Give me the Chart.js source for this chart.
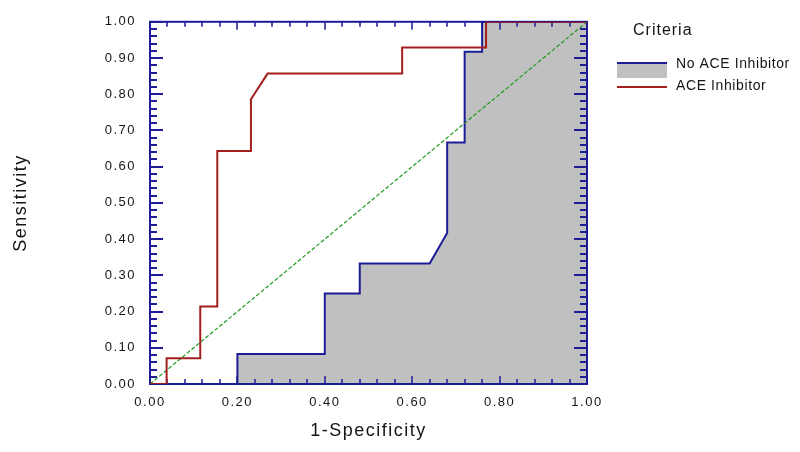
<!DOCTYPE html>
<html>
<head>
<meta charset="utf-8">
<script src="https://cdn.jsdelivr.net/npm/chart.js@4"></script>
<style>
  body { margin: 0; background: #fff; }
  #wrap { width: 800px; height: 452px; }
</style>
</head>
<body>
<div id="wrap"><canvas id="rocChart"></canvas></div>
<script>
"use strict";

// ROC curve points (1-specificity, sensitivity)
const noAceX = [0, 0.20, 0.20, 0.40, 0.40, 0.48, 0.48, 0.64, 0.68, 0.68, 0.72, 0.72, 0.76, 0.76, 1.00];
const noAceY = [0, 0, 0.083, 0.083, 0.25, 0.25, 0.333, 0.333, 0.417, 0.667, 0.667, 0.917, 0.917, 1.00, 1.00];
const aceX = [0, 0.038, 0.038, 0.115, 0.115, 0.154, 0.154, 0.231, 0.231, 0.269, 0.577, 0.577, 0.769, 0.769, 1.00];
const aceY = [0, 0, 0.071, 0.071, 0.214, 0.214, 0.643, 0.643, 0.786, 0.857, 0.857, 0.929, 0.929, 1.00, 1.00];
const refX = [0, 1];
const refY = [0, 1];
const seriesNames = ['No ACE Inhibitor', 'ACE Inhibitor'];
const legendTitle = 'Criteria';

const navy = '#1c1c96';
const darkRed = '#a51e1e';
const textColor = '#151515';

const toPoints = (xs, ys) => xs.map((x, i) => ({ x: x, y: ys[i] }));

// frame + inward ticks, drawn right after the filled series so lines stay on top
const framePlugin = {
    id: 'frame',
    afterDatasetDraw(chart, args) {
        if (args.index !== 0) return;
        const ctx = chart.ctx;
        const a = chart.chartArea;
        const xs = chart.scales.x, ys = chart.scales.y;
        ctx.save();
        ctx.strokeStyle = navy;
        ctx.lineWidth = 2;
        ctx.strokeRect(a.left, a.top, a.right - a.left, a.bottom - a.top);
        ctx.beginPath();
        for (let i = 0; i <= 50; i++) {
            const py = Math.round(ys.getPixelForValue(i * 0.02));
            const len = i % 5 === 0 ? 13 : 7;
            ctx.moveTo(a.left, py); ctx.lineTo(a.left + len, py);
            ctx.moveTo(a.right, py); ctx.lineTo(a.right - len, py);
        }
        ctx.stroke();
        ctx.lineWidth = 1.5;
        ctx.beginPath();
        for (let i = 0; i <= 25; i++) {
            const px = Math.round(xs.getPixelForValue(i * 0.04));
            const len = i % 5 === 0 ? 8 : 5;
            ctx.moveTo(px, a.bottom); ctx.lineTo(px, a.bottom - len);
            ctx.moveTo(px, a.top); ctx.lineTo(px, a.top + len);
        }
        ctx.stroke();
        ctx.restore();
    }
};

const spacingPlugin = {
    id: 'spacing',
    beforeDraw(chart) { chart.ctx.letterSpacing = '1.5px'; }
};

const legendPlugin = {
    id: 'sideLegend',
    afterDraw(chart) {
        const ctx = chart.ctx;
        const ds = chart.data.datasets;
        ctx.save();
        ctx.fillStyle = textColor;
        ctx.textBaseline = 'middle';
        ctx.textAlign = 'left';
        ctx.letterSpacing = '1px';
        ctx.font = '16px "Liberation Sans", Arial, sans-serif';
        ctx.fillText(legendTitle, 633, 31);
        ctx.letterSpacing = '0.6px';
        ctx.font = '14px "Liberation Sans", Arial, sans-serif';
        // entry 1: filled area with line on top
        ctx.fillStyle = ds[0].backgroundColor;
        ctx.fillRect(617, 63, 50, 15);
        ctx.strokeStyle = ds[0].borderColor;
        ctx.lineWidth = 2;
        ctx.beginPath(); ctx.moveTo(617, 63); ctx.lineTo(667, 63); ctx.stroke();
        ctx.fillStyle = textColor;
        ctx.fillText(ds[0].label, 676, 64);
        // entry 2: line only
        ctx.strokeStyle = ds[1].borderColor;
        ctx.beginPath(); ctx.moveTo(617, 87); ctx.lineTo(667, 87); ctx.stroke();
        ctx.fillText(ds[1].label, 676, 86);
        ctx.restore();
    }
};

const tickFont = { family: '"Liberation Sans", Arial, sans-serif', size: 13 };
const titleFont = { family: '"Liberation Sans", Arial, sans-serif', size: 18 };

const rocChart = new Chart(document.getElementById('rocChart').getContext('2d'), {
    type: 'line',
    data: {
        datasets: [{
            label: seriesNames[0],
            data: toPoints(noAceX, noAceY),
            borderColor: navy,
            backgroundColor: '#c0c0c0',
            borderWidth: 2,
            fill: 'origin',
            order: 3
        }, {
            label: seriesNames[1],
            data: toPoints(aceX, aceY),
            borderColor: darkRed,
            borderWidth: 2,
            fill: false,
            order: 1
        }, {
            label: 'Reference',
            data: toPoints(refX, refY),
            borderColor: '#1f9a1f',
            borderWidth: 1.2,
            borderDash: [4, 2],
            fill: false,
            order: 2
        }]
    },
    options: {
        responsive: true,
        maintainAspectRatio: false,
        animation: false,
        elements: { point: { radius: 0 }, line: { tension: 0 } },
        layout: { padding: { top: 20, right: 213, bottom: 0, left: 0 } },
        plugins: { legend: { display: false }, tooltip: { enabled: false } },
        scales: {
            x: {
                type: 'linear',
                min: 0,
                max: 1,
                grid: { display: false, drawTicks: false },
                border: { display: false },
                ticks: {
                    stepSize: 0.2,
                    padding: 11,
                    color: textColor,
                    font: tickFont,
                    maxRotation: 0,
                    callback: v => v.toFixed(2)
                },
                title: {
                    display: true,
                    text: '1-Specificity',
                    color: textColor,
                    font: titleFont,
                    padding: { top: 0, bottom: 10 }
                },
                afterFit: s => { s.height = 68; }
            },
            y: {
                min: 0,
                max: 1,
                grid: { display: false, drawTicks: false },
                border: { display: false },
                ticks: {
                    stepSize: 0.1,
                    padding: 14,
                    color: textColor,
                    font: tickFont,
                    callback: v => v.toFixed(2)
                },
                title: {
                    display: true,
                    text: 'Sensitivity',
                    color: textColor,
                    font: titleFont,
                    padding: { top: 10, bottom: 0 }
                },
                afterFit: s => { s.width = 150; }
            }
        }
    },
    plugins: [spacingPlugin, framePlugin, legendPlugin]
});
</script>
</body>
</html>
